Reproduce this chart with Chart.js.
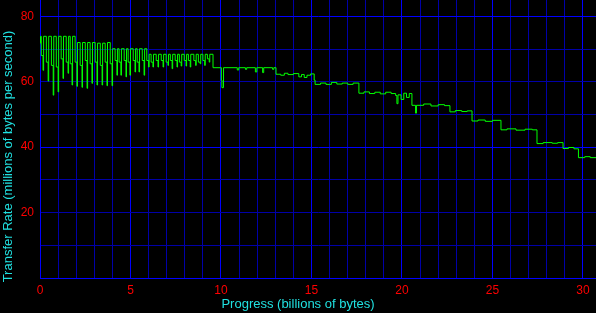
<!DOCTYPE html>
<html>
<head>
<meta charset="utf-8">
<script src="https://cdn.jsdelivr.net/npm/chart.js@4/dist/chart.umd.min.js"></script>
<style>
  html, body { margin: 0; padding: 0; background: #000; }
  #wrap { width: 596px; height: 313px; position: relative; }
</style>
</head>
<body>
<div id="wrap"><canvas id="rateChart"></canvas></div>
<script>
// progress in billions of bytes
const progress = [
    0, 0.03,
    0.07, 0.17, 0.20, 0.35, 0.45, 0.48, 0.63, 0.73, 0.76, 0.90, 1.00, 1.03,
    1.17, 1.27, 1.30, 1.45, 1.55, 1.58, 1.67, 1.77, 1.80, 1.94, 2.04, 2.07,
    2.22, 2.32, 2.35, 2.50, 2.60, 2.63, 2.77, 2.87, 2.90, 3.05, 3.15, 3.18,
    3.33, 3.43, 3.46, 3.60, 3.70, 3.73, 3.88, 3.98, 4.01, 4.15, 4.25, 4.28,
    4.37, 4.47, 4.50, 4.65, 4.75, 4.78, 4.87, 4.97, 5.00, 5.15, 5.25, 5.28,
    5.37, 5.47, 5.50, 5.65, 5.75, 5.78, 5.90, 6.00, 6.03, 6.14, 6.24, 6.27,
    6.42, 6.52, 6.55, 6.70, 6.80, 6.83, 6.97, 7.07, 7.10, 7.20, 7.30, 7.33,
    7.47, 7.57, 7.60, 7.70, 7.80, 7.83, 7.97, 8.07, 8.10, 8.20, 8.30, 8.33,
    8.50, 8.60, 8.63, 8.75, 8.85, 8.88, 9.00, 9.10, 9.13, 9.25, 9.35, 9.38,
    9.56, 10.02, 10.05, 10.14, 10.9, 10.98, 11.35, 11.42, 11.9, 11.98, 12.3, 12.36,
    12.85, 12.92, 13.04, 13.3, 13.5, 13.7, 14.0, 14.3, 14.45, 14.6, 14.75, 14.95,
    15.15, 15.2, 15.5, 15.8, 16.1, 16.4, 16.7, 17.0, 17.3, 17.62, 17.9, 18.2,
    18.5, 18.8, 19.1, 19.4, 19.65, 19.72, 19.78, 19.95, 20.1, 20.25, 20.4, 20.55,
    20.75, 20.8, 21.2, 21.6, 22.0, 22.35, 22.65, 22.95, 23.3, 23.6, 23.87, 24.2,
    24.6, 25.0, 25.47, 25.8, 26.3, 26.8, 27.2, 27.46, 27.8, 28.3, 28.6, 28.9,
    29.2, 29.5, 29.75, 30.1, 30.4, 30.72
];

// transfer rate in millions of bytes per second
const rate = [
    71.8, 73.9,
    68.0, 63.5, 73.9, 66.0, 60.2, 73.9, 65.0, 55.9, 73.9, 64.5, 56.9, 73.9,
    67.0, 61.0, 73.9, 66.0, 62.6, 73.9, 65.5, 59.0, 73.9, 66.0, 58.6, 72.0,
    65.0, 58.3, 72.0, 66.5, 58.0, 72.0, 65.5, 59.5, 72.0, 66.0, 59.0, 71.8,
    65.0, 59.0, 71.8, 66.0, 58.8, 72.0, 65.5, 58.8, 70.1, 66.5, 62.0, 70.1,
    66.0, 62.0, 70.1, 66.5, 61.5, 70.1, 66.0, 62.0, 70.1, 66.5, 63.0, 70.1,
    66.0, 63.0, 70.1, 66.5, 62.0, 70.1, 66.5, 64.5, 68.4, 66.0, 64.5, 68.4,
    66.5, 64.5, 68.4, 66.5, 64.5, 68.4, 66.0, 65.0, 68.4, 66.5, 64.0, 68.4,
    66.5, 64.5, 68.4, 66.0, 64.8, 68.4, 66.5, 64.8, 68.4, 66.5, 64.5, 68.4,
    66.5, 65.0, 68.4, 66.0, 65.5, 68.4, 66.5, 65.0, 68.4, 67.0, 66.0, 68.4,
    64.3, 60.5, 58.2, 64.3, 63.6, 64.3, 63.8, 64.3, 63.0, 64.3, 62.8, 64.3,
    63.8, 64.3, 62.3, 62.0, 62.6, 62.2, 62.5, 61.5, 62.2, 61.3, 62.0, 62.4,
    60.5, 59.2, 59.6, 59.2, 59.8, 59.3, 59.6, 59.2, 59.6, 56.5, 56.9, 56.4,
    56.8, 56.3, 56.8, 56.4, 55.8, 53.3, 56.0, 54.6, 56.5, 55.2, 56.4, 52.8,
    50.4, 52.8, 53.2, 52.6, 53.0, 52.7, 50.8, 51.2, 50.9, 51.1, 48.0, 48.3,
    47.9, 48.2, 45.3, 45.6, 45.2, 45.5, 45.3, 41.1, 41.4, 41.2, 41.4, 39.6,
    39.9, 39.5, 36.8, 37.1, 36.8, 36.9
];

// grid positions and the ones that carry a label
const xTicks = [0, 1, 2, 3, 4, 5, 6, 7, 8, 9, 10, 11, 12, 13, 14, 15,
    16, 17, 18, 19, 20, 21, 22, 23, 24, 25, 26, 27, 28, 29, 30];
const xLabels = [0, 5, 10, 15, 20, 25, 30];
const yTicks = [0, 5, 10, 15, 20, 25, 30, 35, 40, 45, 50, 55, 60, 65, 70, 75, 80];
const yLabels = [20, 40, 60, 80];

const xMax = 30.72;
const yMax = 85;

const tickFont = { family: '"Liberation Sans", Arial, sans-serif', size: 12 };
const titleFont = { family: '"Liberation Sans", Arial, sans-serif', size: 13, weight: 'normal', lineHeight: 1 };

const bright = '#0000ff';
const dim = '#0000a8';

const points = progress.map((p, i) => ({ x: p, y: rate[i] }));

const ctx = document.getElementById('rateChart').getContext('2d');
new Chart(ctx, {
    type: 'line',
    data: {
        datasets: [{
            label: 'Transfer Rate',
            data: points,
            borderColor: '#00ff00',
            borderWidth: 1,
            pointRadius: 0,
            stepped: true,
            fill: false
        }]
    },
    options: {
        responsive: true,
        maintainAspectRatio: false,
        animation: false,
        layout: { padding: 0 },
        plugins: {
            legend: { display: false },
            tooltip: { enabled: false },
            title: {
                display: true,
                position: 'left',
                text: 'Transfer Rate (millions of bytes per second)',
                color: '#20e0e0',
                font: titleFont,
                padding: { top: 2, bottom: 2 }
            },
            subtitle: {
                display: true,
                position: 'bottom',
                text: 'Progress (billions of bytes)',
                color: '#20e0e0',
                font: titleFont,
                padding: { top: 4, bottom: 2 }
            }
        },
        scales: {
            x: {
                type: 'linear',
                min: 0,
                max: xMax,
                afterBuildTicks: s => { s.ticks = xTicks.map(v => ({ value: v })); },
                afterFit: s => {
                    s.height = 16;
                    s.paddingLeft = 0;
                    s.paddingRight = 0;
                },
                ticks: {
                    autoSkip: false,
                    maxRotation: 0,
                    padding: 5,
                    color: '#ff0000',
                    font: tickFont,
                    callback: v => (xLabels.includes(v) ? v : '')
                },
                grid: {
                    drawTicks: false,
                    color: c => (xLabels.includes(c.tick.value) ? bright : dim)
                },
                border: { color: bright }
            },
            y: {
                min: 0,
                max: yMax,
                afterBuildTicks: s => { s.ticks = yTicks.map(v => ({ value: v })); },
                afterFit: s => {
                    s.width = 23;
                    s.paddingTop = 0;
                    s.paddingBottom = 0;
                },
                ticks: {
                    padding: 6,
                    color: '#ff0000',
                    font: tickFont,
                    callback: v => (yLabels.includes(v) ? v : '')
                },
                grid: {
                    drawTicks: false,
                    color: c => (c.tick.value % 40 === 0 ? bright : dim)
                },
                border: { color: bright }
            }
        }
    }
});
</script>
</body>
</html>
